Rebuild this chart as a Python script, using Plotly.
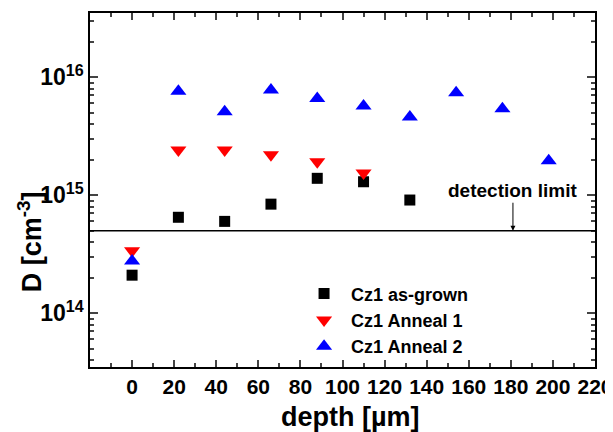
import plotly.graph_objects as go
import numpy as np

# depth [µm]
depth_asgrown = [0, 22, 44, 66, 88, 110, 132]
D_asgrown = [2.1e14, 6.5e14, 6.0e14, 8.4e14, 1.39e15, 1.30e15, 9.1e14]

depth_anneal1 = [0, 22, 44, 66, 88, 110]
D_anneal1 = [3.38e14, 2.42e15, 2.42e15, 2.2e15, 1.92e15, 1.54e15]

depth_anneal2 = [0, 22, 44, 66, 88, 110, 132, 154, 176, 198]
D_anneal2 = [2.77e14, 7.6e15, 5.1e15, 7.8e15, 6.6e15, 5.7e15, 4.6e15, 7.4e15, 5.4e15, 1.96e15]

detection_limit = 5e14

x_ticks = list(range(0, 221, 20))
y_ticks = [1e14, 1e15, 1e16]
y_ticktext = ["<b>10<sup>14</sup></b>", "<b>10<sup>15</sup></b>", "<b>10<sup>16</sup></b>"]

FONT = "Liberation Sans, Arial, sans-serif"

fig = go.Figure()
fig.add_trace(go.Scatter(x=depth_asgrown, y=D_asgrown, mode="markers", name="<b>Cz1 as-grown</b>",
                         marker=dict(symbol="square", size=11, color="black")))
fig.add_trace(go.Scatter(x=depth_anneal1, y=D_anneal1, mode="markers", name="<b>Cz1 Anneal 1</b>",
                         marker=dict(symbol="triangle-down", size=14, color="#ff0000")))
fig.add_trace(go.Scatter(x=depth_anneal2, y=D_anneal2, mode="markers", name="<b>Cz1 Anneal 2</b>",
                         marker=dict(symbol="triangle-up", size=14, color="#0000ff")))

fig.add_shape(type="line", xref="paper", x0=0, x1=1, yref="y", y0=detection_limit, y1=detection_limit,
              line=dict(color="black", width=1.5))

fig.add_annotation(x=181, y=np.log10(detection_limit), xref="x", yref="y",
                   text="<b>detection limit</b>", showarrow=True, ax=0, ay=-40,
                   arrowhead=2, arrowsize=1, arrowwidth=1, arrowcolor="black",
                   font=dict(family=FONT, size=19, color="black"))

# axis titles placed as annotations
fig.add_annotation(xref="paper", yref="paper", x=-0.119, y=0.355, text="<b>D [cm<sup>-3</sup>]</b>",
                   textangle=-90, showarrow=False, xanchor="center", yanchor="middle",
                   font=dict(family=FONT, size=27, color="black"))
fig.add_annotation(xref="paper", yref="paper", x=0.515, y=-0.141, text="<b>depth [µm]</b>",
                   showarrow=False, xanchor="center", yanchor="middle",
                   font=dict(family=FONT, size=27, color="black"))

minor_y = [k * 10.0 ** e for e in range(13, 17) for k in range(2, 10)]

# the page body has an 8px offset; margins compensate so the plot area lands at
# x 90..595, y 13..367 in the 613x432 window
fig.update_layout(
    width=613, height=432,
    margin=dict(l=82, r=26, t=5, b=73),
    plot_bgcolor="white", paper_bgcolor="white",
    font=dict(family=FONT, color="black", size=18),
    showlegend=True,
    legend=dict(x=0.41, y=0.259, xanchor="left", yanchor="top", itemwidth=44,
                bgcolor="rgba(0,0,0,0)", font=dict(family=FONT, size=18, color="black")),
    xaxis=dict(range=[-20, 220], tickvals=x_ticks, ticks="inside", ticklen=7, tickwidth=1.5,
               showline=True, linewidth=1.5, linecolor="black", mirror="ticks", showgrid=False,
               zeroline=False, automargin=False,
               tickfont=dict(family=FONT, size=21, weight="bold"),
               minor=dict(dtick=10, tick0=0, ticks="inside", ticklen=4, tickwidth=1.5, showgrid=False)),
    yaxis=dict(type="log", range=[np.log10(3.5e13), np.log10(3.5e16)], tickvals=y_ticks,
               ticktext=y_ticktext, ticks="inside", ticklen=8, tickwidth=1.5,
               showline=True, linewidth=1.5, linecolor="black", mirror="ticks", showgrid=False,
               zeroline=False, automargin=False,
               tickfont=dict(family=FONT, size=23),
               minor=dict(tickvals=minor_y, ticks="inside", ticklen=4, tickwidth=1.5, showgrid=False)),
)

fig.write_html("out.html")
